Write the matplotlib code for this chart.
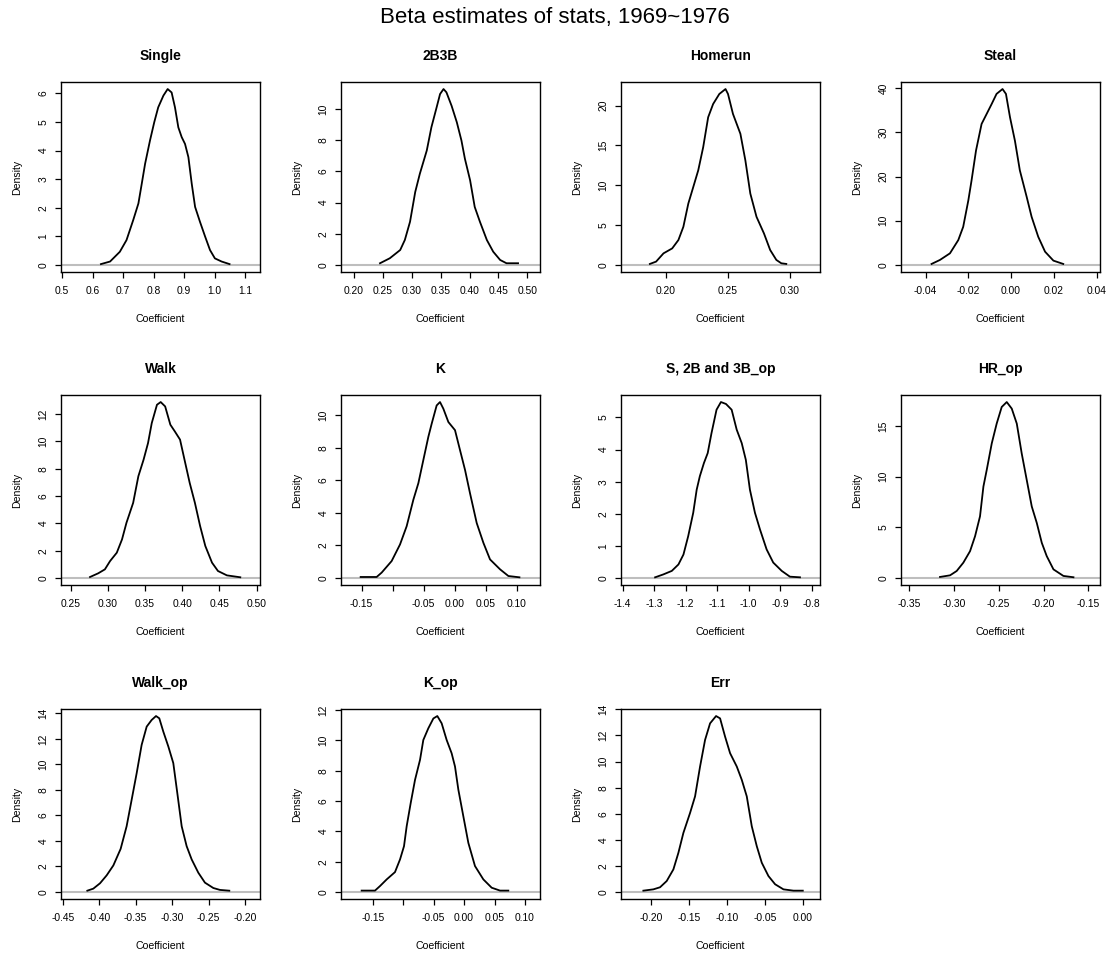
import matplotlib
matplotlib.use("Agg")
import matplotlib.pyplot as plt
import numpy as np

plt.rcParams['font.family'] = ['Liberation Sans', 'DejaVu Sans']

# density curves (x = coefficient, y = density)
single_x = [0.627, 0.657, 0.689, 0.711, 0.733, 0.750, 0.761, 0.772, 0.788, 0.802, 0.815, 0.832, 0.846,
            0.859, 0.870, 0.881, 0.892, 0.903, 0.914, 0.925, 0.936, 0.952, 0.969, 0.985, 1.001, 1.023, 1.049]
single_y = [0.03, 0.12, 0.46, 0.87, 1.57, 2.15, 2.84, 3.54, 4.35, 4.99, 5.51, 5.92, 6.15,
            6.03, 5.51, 4.81, 4.47, 4.23, 3.77, 2.84, 2.03, 1.51, 0.99, 0.52, 0.23, 0.12, 0.03]

b23_x = [0.245, 0.262, 0.280, 0.288, 0.297, 0.306, 0.314, 0.326, 0.334, 0.343, 0.349, 0.355, 0.360,
         0.369, 0.378, 0.386, 0.392, 0.401, 0.409, 0.418, 0.430, 0.441, 0.453, 0.464, 0.484]
b23_y = [0.11, 0.43, 0.96, 1.60, 2.77, 4.68, 5.85, 7.34, 8.83, 10.1, 10.96, 11.28, 11.07,
         10.2, 9.15, 7.98, 6.81, 5.43, 3.72, 2.77, 1.60, 0.85, 0.32, 0.11, 0.11]

hr_x = [0.187, 0.192, 0.198, 0.205, 0.210, 0.214, 0.218, 0.222, 0.226, 0.230, 0.234, 0.238, 0.243,
        0.248, 0.250, 0.254, 0.260, 0.264, 0.268, 0.273, 0.279, 0.284, 0.289, 0.293, 0.297]
hr_y = [0.13, 0.42, 1.46, 2.08, 3.13, 4.79, 7.71, 9.79, 11.88, 14.79, 18.54, 20.2, 21.46,
        22.08, 21.46, 18.96, 16.46, 13.13, 8.96, 6.04, 3.96, 1.88, 0.63, 0.21, 0.13]

steal_x = [-0.0372, -0.0333, -0.0286, -0.0247, -0.0224, -0.0200, -0.0185, -0.0164, -0.0138, -0.0115,
           -0.0091, -0.0068, -0.0040, -0.0024, -0.0005, 0.0018, 0.0041, 0.0073, 0.0096, 0.0127,
           0.0159, 0.0198, 0.0244]
steal_y = [0.23, 1.13, 2.63, 5.63, 8.63, 14.6, 19.1, 25.9, 31.9, 34.1,
           36.4, 38.7, 39.8, 38.7, 33.4, 28.1, 21.4, 15.4, 10.9, 6.38,
           3.00, 0.98, 0.23]

walk_x = [0.276, 0.287, 0.296, 0.303, 0.312, 0.319, 0.325, 0.334, 0.341, 0.348, 0.354, 0.359, 0.366, 0.371,
          0.377, 0.384, 0.390, 0.397, 0.404, 0.410, 0.417, 0.424, 0.431, 0.440, 0.448, 0.460, 0.478]
walk_y = [0.07, 0.34, 0.63, 1.24, 1.85, 2.82, 4.04, 5.50, 7.45, 8.66, 9.88, 11.34, 12.68, 12.88,
          12.56, 11.22, 10.73, 10.13, 8.42, 6.96, 5.50, 3.80, 2.34, 1.12, 0.51, 0.19, 0.05]

k_x = [-0.1516, -0.1258, -0.1177, -0.1016, -0.0881, -0.0774, -0.0666, -0.0585, -0.0505, -0.0424, -0.0370,
       -0.0290, -0.0236, -0.0182, -0.0101, 0.0006, 0.0087, 0.0168, 0.0248, 0.0356, 0.0464, 0.0571,
       0.0733, 0.0867, 0.1045]
k_y = [0.06, 0.06, 0.33, 1.04, 2.06, 3.18, 4.81, 5.83, 7.25, 8.68, 9.49,
       10.61, 10.82, 10.41, 9.59, 9.09, 7.86, 6.64, 5.21, 3.38, 2.16, 1.14,
       0.53, 0.12, 0.04]

s23op_x = [-1.297, -1.271, -1.244, -1.223, -1.207, -1.192, -1.176, -1.165, -1.155, -1.142, -1.130, -1.118,
           -1.102, -1.088, -1.072, -1.054, -1.038, -1.022, -1.009, -0.996, -0.980, -0.964, -0.943,
           -0.922, -0.895, -0.869, -0.837]
s23op_y = [0.02, 0.11, 0.22, 0.42, 0.73, 1.30, 2.03, 2.75, 3.17, 3.58, 3.89, 4.51,
           5.24, 5.48, 5.42, 5.24, 4.62, 4.20, 3.68, 2.75, 2.03, 1.51, 0.89,
           0.48, 0.22, 0.04, 0.02]

hrop_x = [-0.3154, -0.3042, -0.2968, -0.2894, -0.2819, -0.2763, -0.2708, -0.2670, -0.2633, -0.2577,
          -0.2522, -0.2466, -0.2410, -0.2354, -0.2298, -0.2243, -0.2187, -0.2131, -0.2075, -0.2019,
          -0.1964, -0.1889, -0.1778, -0.1666]
hrop_y = [0.10, 0.26, 0.69, 1.51, 2.65, 4.13, 6.09, 9.04, 10.68, 13.30,
          15.26, 16.90, 17.39, 16.74, 15.26, 12.31, 9.69, 7.07, 5.44, 3.47,
          2.16, 0.85, 0.20, 0.07]

walkop_x = [-0.4162, -0.4080, -0.3988, -0.3897, -0.3805, -0.3705, -0.3623, -0.3554, -0.3485, -0.3417,
            -0.3348, -0.3280, -0.3220, -0.3175, -0.3120, -0.3051, -0.2983, -0.2928, -0.2868, -0.2800,
            -0.2731, -0.2640, -0.2549, -0.2434, -0.2343, -0.2215]
walkop_y = [0.10, 0.26, 0.68, 1.30, 2.08, 3.38, 5.15, 7.23, 9.32, 11.53,
            12.96, 13.48, 13.79, 13.61, 12.57, 11.40, 10.10, 7.75, 5.15, 3.59,
            2.55, 1.51, 0.73, 0.31, 0.16, 0.10]

kop_x = [-0.1681, -0.1462, -0.1380, -0.1270, -0.1134, -0.1051, -0.0986, -0.0942, -0.0876, -0.0805,
         -0.0723, -0.0669, -0.0587, -0.0504, -0.0439, -0.0368, -0.0286, -0.0204, -0.0149, -0.0094,
         -0.0012, 0.0070, 0.0179, 0.0316, 0.0453, 0.0590, 0.0726]
kop_y = [0.09, 0.09, 0.39, 0.83, 1.31, 2.15, 3.02, 4.34, 5.87, 7.40,
         8.72, 10.03, 10.80, 11.45, 11.61, 11.13, 10.03, 9.15, 8.28, 6.75,
         4.99, 3.24, 1.71, 0.83, 0.28, 0.09, 0.09]

err_x = [-0.2101, -0.1969, -0.1881, -0.1793, -0.1705, -0.1639, -0.1573, -0.1485, -0.1419, -0.1353,
         -0.1287, -0.1221, -0.1142, -0.1089, -0.1023, -0.0957, -0.0869, -0.0803, -0.0737, -0.0671,
         -0.0605, -0.0539, -0.0451, -0.0363, -0.0253, -0.0121, 0.0002]
err_y = [0.10, 0.20, 0.36, 0.84, 1.73, 3.00, 4.53, 6.06, 7.33, 9.62,
         11.66, 12.93, 13.49, 13.31, 11.91, 10.64, 9.62, 8.60, 7.33, 5.04,
         3.51, 2.24, 1.22, 0.59, 0.20, 0.10, 0.10]

titles = ['Single', '2B3B', 'Homerun', 'Steal', 'Walk', 'K', 'S, 2B and 3B_op', 'HR_op',
          'Walk_op', 'K_op', 'Err']
curves_x = [single_x, b23_x, hr_x, steal_x, walk_x, k_x, s23op_x, hrop_x, walkop_x, kop_x, err_x]
curves_y = [single_y, b23_y, hr_y, steal_y, walk_y, k_y, s23op_y, hrop_y, walkop_y, kop_y, err_y]

xlims = [(0.496, 1.149), (0.1775, 0.522), (0.1637, 0.3242), (-0.0515, 0.0416),
         (0.237, 0.5045), (-0.1833, 0.1377), (-1.4053, -0.7735), (-0.3589, -0.137),
         (-0.4523, -0.1794), (-0.202, 0.1246), (-0.2396, 0.0229)]

xtick_labels = [
    ['0.5', '0.6', '0.7', '0.8', '0.9', '1.0', '1.1'],
    ['0.20', '0.25', '0.30', '0.35', '0.40', '0.45', '0.50'],
    ['0.20', '0.25', '0.30'],
    ['-0.04', '-0.02', '0.00', '0.02', '0.04'],
    ['0.25', '0.30', '0.35', '0.40', '0.45', '0.50'],
    ['-0.15', '-0.10', '-0.05', '0.00', '0.05', '0.10'],
    ['-1.4', '-1.3', '-1.2', '-1.1', '-1.0', '-0.9', '-0.8'],
    ['-0.35', '-0.30', '-0.25', '-0.20', '-0.15'],
    ['-0.45', '-0.40', '-0.35', '-0.30', '-0.25', '-0.20'],
    ['-0.15', '-0.10', '-0.05', '0.00', '0.05', '0.10'],
    ['-0.20', '-0.15', '-0.10', '-0.05', '0.00'],
]
# labels R dropped because they would overlap
hidden_labels = {5: ['-0.10'], 9: ['-0.10']}
ytick_steps = [1, 2, 5, 10, 2, 2, 1, 5, 2, 2, 2]

W, H = 1109, 958
fig = plt.figure(figsize=(W / 100, H / 100), dpi=100)
fig.text(0.5, 1 - 17 / H, 'Beta estimates of stats, 1969~1976', ha='center', va='center', fontsize=16)

col_left = [61, 341, 621, 901]
row_top = [82, 395, 709]
aw, ah = 199, 190

for i, title in enumerate(titles):
    r, c = divmod(i, 4)
    ax = fig.add_axes([col_left[c] / W, 1 - (row_top[r] + ah) / H, aw / W, ah / H])
    x = np.array(curves_x[i])
    y = np.array(curves_y[i])
    ax.axhline(0, color='#BEBEBE', lw=1.5, zorder=1)
    ax.plot(x, y, color='black', lw=1.3, zorder=2)
    ymax = y.max()
    ytop = 1.04 * ymax
    ax.set_ylim(-0.04 * ymax, ytop)
    ax.set_xlim(*xlims[i])

    labs = xtick_labels[i]
    ax.set_xticks([float(s) for s in labs])
    ax.set_xticklabels(['' if s in hidden_labels.get(i, []) else s for s in labs])
    yt = np.arange(0, ytop + 1e-9, ytick_steps[i])
    ax.set_yticks(yt)
    ax.set_yticklabels(['%d' % v for v in yt], rotation=90, va='center')

    ax.tick_params(direction='out', length=4, width=0.9, labelsize=7.4, colors='black')
    ax.tick_params(axis='x', pad=6)
    ax.tick_params(axis='y', pad=5)
    for s in ax.spines.values():
        s.set_linewidth(1.0)

    ax.text(0.5, 1 + 26 / ah, title, transform=ax.transAxes, ha='center', va='center',
            fontsize=10, fontweight='bold')
    ax.text(-44 / aw, 0.5, 'Density', transform=ax.transAxes, ha='center', va='center',
            rotation=90, fontsize=7.6)
    ax.text(0.5, -47 / ah, 'Coefficient', transform=ax.transAxes, ha='center', va='center',
            fontsize=7.6)

fig.savefig('out.png', dpi=100)
